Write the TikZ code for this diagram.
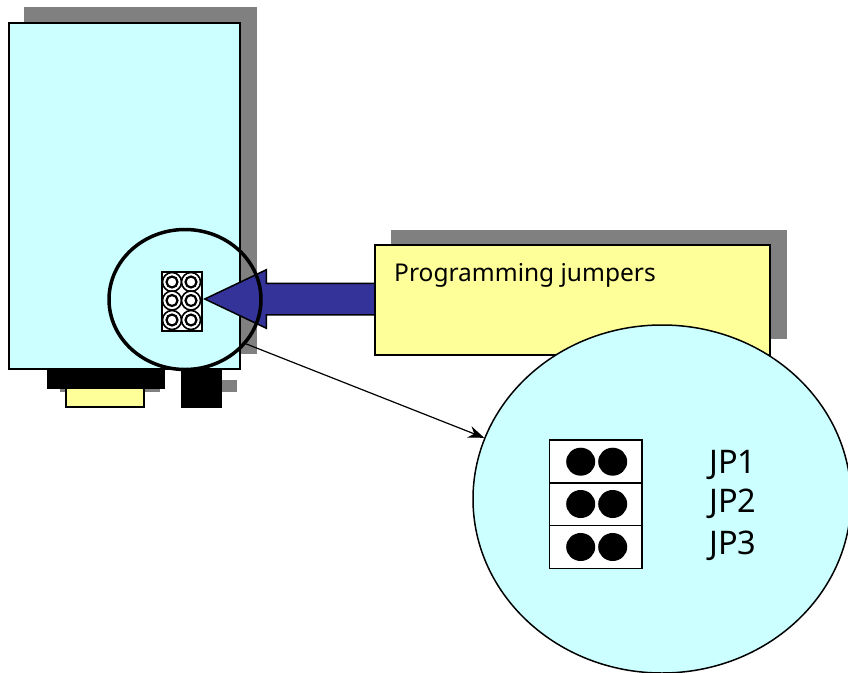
\documentclass[tikz,border=0pt]{standalone}
\usepackage{fontspec}
\setmainfont{Noto Sans}
\usetikzlibrary{arrows.meta,shapes.arrows,shapes.geometric,positioning}
\definecolor{caseblue}{HTML}{CCFFFF}
\definecolor{noteyellow}{HTML}{FFFF99}
\definecolor{arrowblue}{HTML}{333399}
\definecolor{shadowgray}{HTML}{808080}
\tikzset{
shadowbox/.style={fill=shadowgray}, % grey offset behind a box
casebox/.style={draw=black, fill=caseblue, line width=1.2pt},
notebox/.style={draw=black, fill=noteyellow, line width=1.2pt},
plugbox/.style={draw=black, fill=black},
lens/.style={ellipse, draw=black, inner sep=0pt},
notelabel/.style={anchor=base west, inner sep=0pt, font=\fontsize{24.5}{24.5}\selectfont},
jplabel/.style={anchor=base west, inner sep=0pt, font=\fontsize{32.5}{32.5}\selectfont},
}

\begin{document}
\begin{tikzpicture}[x=1pt, y=-1pt]
\useasboundingbox (0,0) rectangle (848,672);
\clip (0,0) rectangle (848,672);

% the unit
\fill[shadowbox] (24,7) rectangle (257,354);
\fill[shadowbox] (60,380) rectangle (160,392);
\fill[shadowbox] (190,380) rectangle (237,392);
\draw[casebox] (9,23) rectangle (240,369);
\draw[notebox] (66,388) rectangle (144,407);
\draw[plugbox] (47,368) rectangle (164,388);
\draw[plugbox] (181,368) rectangle (221,407);

% small jumper block
\draw[fill=white, line width=1.2pt] (162,272) rectangle (202,331);
\foreach \x in {172,191}
  \foreach \y in {282,300.5,320}
  {
    \draw[fill=white, line width=1.6pt] (\x,\y) circle (9.5pt);
    \draw[fill=white, line width=2.2pt] (\x,\y) circle (5.5pt);
  }

% note
\fill[shadowbox] (391,230) rectangle (787,339);
\node[single arrow, draw=black, fill=arrowblue, line width=1.5pt, inner xsep=0pt, inner ysep=15pt,
  shape border rotate=180, single arrow tip angle=50.8, single arrow head extend=13.5pt,
  minimum height=172pt, anchor=tip] (pointer) at (203,299) {};
\node[notebox, rectangle, minimum width=395pt, minimum height=110pt, inner sep=0pt] (note) at (572.5,300) {};
\node[notelabel] (notetext) at (394,281) {Programming jumpers};

% magnified view
\node[lens, fill=caseblue, line width=1.5pt, minimum width=378pt, minimum height=348pt] (bigview) at (662,499) {};
\foreach \y/\v in {440/483,483/525.7,525.7/568.7}
  \draw[fill=white, line width=1.5pt] (549.3,\y) rectangle (642,\v);
\foreach \y in {461.7,504,547}
  \foreach \x in {580.7,612.7}
    \fill[black] (\x,\y) ellipse (14.5pt and 14pt);
\node[jplabel] (jpa) at (709,473) {JP1};
\node[jplabel] (jpb) at (709,512) {JP2};
\node[jplabel] (jpc) at (709,554) {JP3};

\node[lens, line width=3.5pt, minimum width=152pt, minimum height=140pt] (ring) at (185,299.5) {};
\draw[-{Stealth[length=16pt, width=12pt]}, line width=1.2pt] (ring.-36) -- (bigview.161);

\end{tikzpicture}
\end{document}
